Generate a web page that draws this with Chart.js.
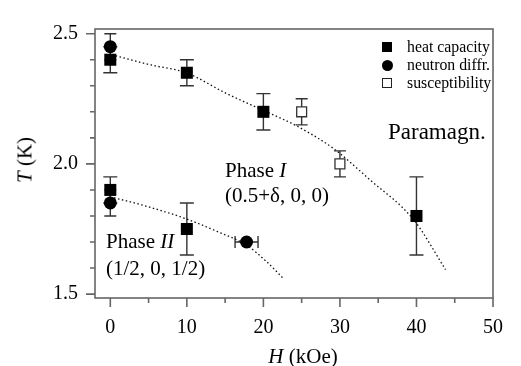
<!DOCTYPE html>
<html>
<head>
<meta charset="utf-8">
<script src="https://cdn.jsdelivr.net/npm/chart.js@4.4.1/dist/chart.umd.min.js"></script>
<style>
  html, body { margin: 0; padding: 0; background: #fff; }
  #wrap { position: relative; width: 521px; height: 366px; font-family: "Liberation Serif", Tinos, "Times New Roman", Times, "DejaVu Serif", serif; color: #000; }
  #chart { position: absolute; left: 0; top: 0; }
  .lbl { position: absolute; white-space: nowrap; font-size: 21px; line-height: 1; }
  .row { position: absolute; left: 380px; height: 18px; line-height: 18px; font-size: 15.8px; white-space: nowrap; }
  .row .mk { position: absolute; left: 2px; top: 4px; width: 10px; height: 10px; background: #000; box-sizing: border-box; }
  .row .mk.circ { border-radius: 50%; left: 1.5px; top: 3.5px; width: 11px; height: 11px; }
  .row .mk.open { background: #fff; border: 1.3px solid #222; }
  .row span.t { position: absolute; left: 27px; top: 0; }
  #ytitle { left: 25px; top: 160px; transform: translate(-50%, -50%) rotate(-90deg); }
  #xtitle { left: 303px; top: 356px; transform: translate(-50%, -50%); }
</style>
</head>
<body>
<div id="wrap">
  <canvas id="chart" width="521" height="366"></canvas>

  <div class="row" style="top:38px"><span class="mk"></span><span class="t">heat capacity</span></div>
  <div class="row" style="top:56px"><span class="mk circ"></span><span class="t">neutron diffr.</span></div>
  <div class="row" style="top:74px"><span class="mk open"></span><span class="t">susceptibility</span></div>

  <div class="lbl" style="left:388px; top:120px; font-size:23px">Paramagn.</div>
  <div class="lbl" style="left:225px; top:160px">Phase <i>I</i></div>
  <div class="lbl" style="left:225px; top:185px">(0.5+&delta;, 0, 0)</div>
  <div class="lbl" style="left:106px; top:231px">Phase <i>II</i></div>
  <div class="lbl" style="left:106px; top:258px">(1/2, 0, 1/2)</div>

  <div class="lbl" id="ytitle"><i>T</i> (K)</div>
  <div class="lbl" id="xtitle"><i>H</i> (kOe)</div>
</div>

<script>
// ----------------------------------------------------
// DATA
// ----------------------------------------------------
const heatH = [0, 10, 20, 40, 0, 10];
const heatT = [2.40, 2.35, 2.20, 1.80, 1.90, 1.75];
const heatErrT = [0.05, 0.05, 0.07, 0.15, 0.05, 0.10];

const neutronH = [0, 0, 17.8];
const neutronT = [2.45, 1.85, 1.70];
const neutronErrT = [0.05, 0.05, 0];
const neutronErrH = [0, 0, 1.5];

const suscH = [25, 30];
const suscT = [2.20, 2.00];
const suscErrT = [0.05, 0.05];

// dotted phase boundaries
const boundaryIH = [0.7, 5.3, 9.9, 15.2, 20.4, 24.4, 29.2, 33.8, 39.7, 43.8];
const boundaryIT = [2.415, 2.38, 2.35, 2.27, 2.20, 2.145, 2.058, 1.942, 1.783, 1.594];
const boundaryIIH = [0.5, 5, 9.9, 14, 17.9, 20.4, 22.7];
const boundaryIIT = [1.87, 1.835, 1.789, 1.74, 1.686, 1.625, 1.557];

const xMajorTicks = [0, 10, 20, 30, 40, 50];
const xMinorTicks = [5, 15, 25, 35, 45];
const yMajorTicks = [1.5, 2.0, 2.5];
const yMinorTicks = [1.6, 1.7, 1.8, 1.9, 2.1, 2.2, 2.3, 2.4];

const toPts = (xs, ys) => xs.map((v, i) => ({ x: v, y: ys[i] }));

// ----------------------------------------------------
// PLUGINS
// ----------------------------------------------------

// error bars drawn under the markers
const errorBars = {
    id: 'errorBars',
    beforeDatasetsDraw(chart) {
        const { ctx, scales: { x, y } } = chart;
        ctx.save();
        ctx.strokeStyle = '#333';
        ctx.lineWidth = 1.4;
        chart.data.datasets.forEach(ds => {
            if (!ds.errT && !ds.errH) return;
            const cap = ds.cap || 6;
            ds.data.forEach((p, i) => {
                const px = x.getPixelForValue(p.x);
                const py = y.getPixelForValue(p.y);
                const et = ds.errT ? ds.errT[i] : 0;
                const eh = ds.errH ? ds.errH[i] : 0;
                ctx.beginPath();
                if (et) {
                    const y1 = y.getPixelForValue(p.y + et);
                    const y2 = y.getPixelForValue(p.y - et);
                    ctx.moveTo(px, y1); ctx.lineTo(px, y2);
                    ctx.moveTo(px - cap, y1); ctx.lineTo(px + cap, y1);
                    ctx.moveTo(px - cap, y2); ctx.lineTo(px + cap, y2);
                }
                if (eh) {
                    const x1 = x.getPixelForValue(p.x - eh);
                    const x2 = x.getPixelForValue(p.x + eh);
                    ctx.moveTo(x1, py); ctx.lineTo(x2, py);
                    ctx.moveTo(x1, py - cap); ctx.lineTo(x1, py + cap);
                    ctx.moveTo(x2, py - cap); ctx.lineTo(x2, py + cap);
                }
                ctx.stroke();
            });
        });
        ctx.restore();
    }
};

// box frame + outward ticks (long majors, short minors)
const frameTicks = {
    id: 'frameTicks',
    afterDraw(chart) {
        const { ctx, chartArea: a, scales: { x, y } } = chart;
        ctx.save();
        ctx.strokeStyle = '#666';
        ctx.lineWidth = 1.6;
        ctx.strokeRect(a.left, a.top, a.right - a.left, a.bottom - a.top);
        ctx.beginPath();
        xMajorTicks.forEach(v => { const p = x.getPixelForValue(v); ctx.moveTo(p, a.bottom); ctx.lineTo(p, a.bottom + 9); });
        xMinorTicks.forEach(v => { const p = x.getPixelForValue(v); ctx.moveTo(p, a.bottom); ctx.lineTo(p, a.bottom + 5); });
        yMajorTicks.forEach(v => { const p = y.getPixelForValue(v); ctx.moveTo(a.left, p); ctx.lineTo(a.left - 9, p); });
        yMinorTicks.forEach(v => { const p = y.getPixelForValue(v); ctx.moveTo(a.left, p); ctx.lineTo(a.left - 5, p); });
        ctx.stroke();
        ctx.restore();
    }
};

// ----------------------------------------------------
// CHART
// ----------------------------------------------------
const tickFont = { family: '"Liberation Serif", Tinos, "Times New Roman", Times, "DejaVu Serif", serif', size: 20 };

new Chart(document.getElementById('chart').getContext('2d'), {
    type: 'scatter',
    data: {
        datasets: [
            {
                label: 'neutron diffr.',
                data: toPts(neutronH, neutronT),
                errT: neutronErrT, errH: neutronErrH, cap: 6,
                pointStyle: 'circle', pointRadius: 6.5,
                backgroundColor: '#000', borderColor: '#000', borderWidth: 0
            },
            {
                label: 'heat capacity',
                data: toPts(heatH, heatT),
                errT: heatErrT, cap: 7,
                pointStyle: 'rect', pointRadius: 8.5,
                backgroundColor: '#000', borderColor: '#000', borderWidth: 0
            },
            {
                label: 'susceptibility',
                data: toPts(suscH, suscT),
                errT: suscErrT, cap: 6,
                pointStyle: 'rect', pointRadius: 7,
                backgroundColor: '#fff', borderColor: '#333', borderWidth: 1.3
            },
            {
                type: 'line',
                data: toPts(boundaryIH, boundaryIT),
                borderColor: '#111', borderWidth: 1.3, borderDash: [1.5, 2.5],
                pointRadius: 0, cubicInterpolationMode: 'monotone', fill: false
            },
            {
                type: 'line',
                data: toPts(boundaryIIH, boundaryIIT),
                borderColor: '#111', borderWidth: 1.3, borderDash: [1.5, 2.5],
                pointRadius: 0, cubicInterpolationMode: 'monotone', fill: false
            }
        ]
    },
    options: {
        responsive: false,
        animation: false,
        layout: { padding: { top: 16, right: 12, left: 0, bottom: 0 } },
        plugins: { legend: { display: false }, tooltip: { enabled: false } },
        scales: {
            x: {
                type: 'linear', min: -2, max: 50,
                afterBuildTicks: s => { s.ticks = xMajorTicks.map(v => ({ value: v })); },
                afterFit: s => { s.height = 68; },
                grid: { display: false, drawTicks: false },
                border: { display: false },
                ticks: { font: tickFont, color: '#000', padding: 18, maxRotation: 0 }
            },
            y: {
                type: 'linear', min: 1.485, max: 2.518,
                afterBuildTicks: s => { s.ticks = yMajorTicks.map(v => ({ value: v })); },
                afterFit: s => { s.width = 95; },
                grid: { display: false, drawTicks: false },
                border: { display: false },
                ticks: { font: tickFont, color: '#000', padding: 17, callback: v => v.toFixed(1) }
            }
        }
    },
    plugins: [errorBars, frameTicks]
});
</script>
</body>
</html>
